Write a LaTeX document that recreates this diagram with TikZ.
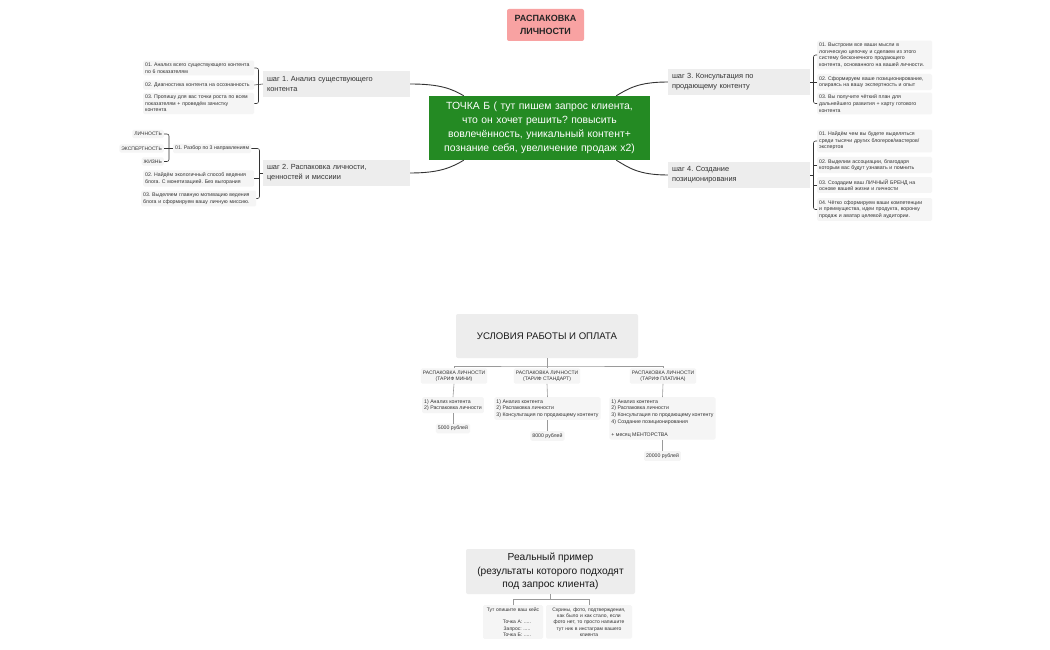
\documentclass[tikz,border=0pt]{standalone}
\usepackage{fontspec}
\setmainfont{Liberation Sans}
\usetikzlibrary{calc}
\definecolor{itemfill}{HTML}{F5F5F5}
\definecolor{stepfill}{HTML}{EDEDED}
\definecolor{greenbox}{HTML}{248A23}
\definecolor{pinkbox}{HTML}{F8A2A2}
\definecolor{linedark}{HTML}{333333}
\definecolor{linegray}{HTML}{9A9A9A}
\definecolor{txt}{HTML}{333333}
\newcommand{\myfs}[2]{\fontsize{#1}{#2}\selectfont}
\frenchspacing
\begin{document}
\frenchspacing
\begin{tikzpicture}[x=1pt,y=-1pt,
  item/.style={fill=itemfill, rounded corners=1.5pt, font=\myfs{5.2}{6.6}, align=left, inner xsep=2pt, inner ysep=2.3pt, text=txt},
  stepbox/.style={fill=stepfill, font=\myfs{7.4}{10}, align=left, inner xsep=4pt, minimum height=26pt, text=txt},
  bigbox/.style={fill=stepfill, rounded corners=2pt, align=center, text=black!90},
  br/.style={draw=linedark, line width=0.55pt, rounded corners=2pt},
  curve/.style={draw=linedark, line width=0.9pt},
  tl/.style={draw=linegray, line width=0.6pt},
  tnode/.style={fill=itemfill, rounded corners=1.5pt, font=\myfs{5.2}{6.6}, inner xsep=2pt, inner ysep=2.3pt, text=txt}
]
\useasboundingbox[fill=white] (0,0) rectangle (1050,650);

% title
\node[fill=pinkbox, rounded corners=2pt, minimum width=77pt, minimum height=32pt, align=center, font=\myfs{9}{12.5}\bfseries, text=black!85] (title) at (545.5,25) {РАСПАКОВКА\\ЛИЧНОСТИ};

% steps
\node[stepbox, text width=139pt] (s1) at (336.5,84) {шаг 1. Анализ существующего\\контента};
\node[stepbox, text width=139pt] (s2) at (336.5,173) {шаг 2. Распаковка личности,\\ценностей и миссиии};
\node[stepbox, text width=134pt] (s3) at (739,82) {шаг 3. Консультация по\\продающему контенту};
\node[stepbox, text width=134pt] (s4) at (739,175) {шаг 4. Создание\\позиционирования};

% center
\node[fill=greenbox, text=white, text width=213pt, inner xsep=4pt, minimum height=64pt, align=center, font=\myfs{10.4}{13.8}] (g) at (539.5,128) {ТОЧКА Б ( тут пишем запрос клиента,\\что он хочет решить? повысить\\вовлечённость, уникальный контент+\\познание себя, увеличение продаж x2)};

% curves
\draw[curve] (s1.east) .. controls +(30,0) and +(-12,-7) .. ($(g.north west)+(35,0)$);
\draw[curve] (s2.east) .. controls +(30,0) and +(-12,7) .. ($(g.south west)+(35,0)$);
\draw[curve] (s3.west) .. controls +(-30,0) and +(12,-7) .. ($(g.north east)+(-34,0)$);
\draw[curve] (s4.west) .. controls +(-30,0) and +(12,7) .. ($(g.south east)+(-34,0)$);

% step 1 items
\node[item, text width=107pt, anchor=west] (l1a) at (143,68) {01. Анализ всего существующего контента\\по 6 показателям};
\node[item, text width=107pt, anchor=west] (l1b) at (143,85) {02. Диагностика контента на осознанность};
\node[item, text width=107pt, anchor=west] (l1c) at (143,103.5) {03. Пропишу для вас точки роста по всем\\показателям + проведём зачистку\\контента};
\coordinate (j1) at (258.5,84);
\draw[br] (l1a.east) -| (j1) |- (l1c.east);
\draw[br] (l1b.east) -- (s1.west);

% step 2 items
\node[item, anchor=west] (l2a) at (173,148.5) {01. Разбор по 3 направлениям};
\node[item, text width=107pt, anchor=west] (l2b) at (143,178.5) {02. Найдём экологичный способ ведения\\блога. С монетизацией. Без выгорания};
\node[item, text width=111pt, anchor=west] (l2c) at (141,198.5) {03. Выделяем главную мотивацию ведения\\блога и сформируем вашу личную миссию.};
\coordinate (j2) at (259.5,173);
\draw[br] (l2a.east) -| (j2) |- (l2c.east);
\draw[br] (j2) -- (s2.west);
\draw[br] (l2b.east) -- (l2b.east -| j2);

% sub items
\node[tnode, anchor=east, font=\myfs{5}{6}] (sa) at (164,134) {ЛИЧНОСТЬ};
\node[tnode, anchor=east, font=\myfs{5}{6}] (sb) at (164,148.5) {ЭКСПЕРТНОСТЬ};
\node[tnode, anchor=east, font=\myfs{5}{6}] (sc) at (164,161.5) {ЖИЗНЬ};
\coordinate (j3) at (169,148.5);
\draw[br] (sa.east) -| (j3) |- (sc.east);
\draw[br] (sb.east) -- (l2a.west);

% step 3 items
\node[item, text width=111pt, anchor=west] (r3a) at (817,55) {01. Выстроим все ваши мысли в\\логическую цепочку и сделаем из этого\\систему бесконечного продающего\\контента, основанного на вашей личности.};
\node[item, text width=111pt, anchor=west] (r3b) at (817,82) {02. Сформируем ваше позиционирование,\\опираясь на вашу экспертность и опыт};
\node[item, text width=111pt, anchor=west] (r3c) at (817,103.5) {03. Вы получите чёткий план для\\дальнейшего развития + карту готового\\контента};
\coordinate (j4) at (813.5,82);
\draw[br] (r3a.west) -| (j4) |- (r3c.west);
\draw[br] (s3.east) -- (r3b.west);

% step 4 items
\node[item, text width=111pt, anchor=west] (r4a) at (817,141) {01. Найдём чем вы будете выделяться\\среди тысячи других блогеров/мастеров/\\экспертов};
\node[item, text width=111pt, anchor=west] (r4b) at (817,165) {02. Выделим ассоциации, благодаря\\которым вас будут узнавать и помнить};
\node[item, text width=111pt, anchor=west] (r4c) at (817,185) {03. Создадим ваш ЛИЧНЫЙ БРЕНД на\\основе вашей жизни и личности};
\node[item, text width=111pt, anchor=west] (r4d) at (817,209.5) {04. Чётко сформируем ваши компетенции\\и преимущества, идеи продукта, воронку\\продаж и аватар целевой аудитории.};
\coordinate (j5) at (813.5,175);
\draw[br] (r4a.west) -| (j5) |- (r4d.west);
\draw[br] (s4.east) -- (j5);
\draw[br] (r4b.west) -- (r4b.west -| j5);
\draw[br] (r4c.west) -- (r4c.west -| j5);

% conditions
\node[bigbox, minimum width=182pt, minimum height=44pt, font=\myfs{9.6}{12}] (cond) at (547,336) {УСЛОВИЯ РАБОТЫ И ОПЛАТА};
\node[tnode, align=center, font=\myfs{5}{6.2}] (t1) at (454,376) {РАСПАКОВКА ЛИЧНОСТИ\\(ТАРИФ МИНИ)};
\node[tnode, align=center, font=\myfs{5}{6.2}] (t2) at (547,376) {РАСПАКОВКА ЛИЧНОСТИ\\(ТАРИФ СТАНДАРТ)};
\node[tnode, align=center, font=\myfs{5}{6.2}] (t3) at (663,376) {РАСПАКОВКА ЛИЧНОСТИ\\(ТАРИФ ПЛАТИНА)};
\coordinate (cj) at (547,366);
\draw[tl] (cond.south) -- (cj);
\draw[tl] (t1.north) |- (cj) -| (t3.north);
\draw[tl] (cj) -- (t2.north);

\node[tnode, align=left, anchor=north] (c1) at (453,397) {1) Анализ контента\\2) Распаковка личности};
\node[tnode, align=left, anchor=north] (c2) at (547.5,397) {1) Анализ контента\\2) Распаковка личности\\3) Консультация по продающему контенту};
\node[tnode, align=left, anchor=north] (c3) at (662.5,397) {1) Анализ контента\\2) Распаковка личности\\3) Консультация по продающему контенту\\4) Создание позиционирования\\[6.6pt]+ месяц МЕНТОРСТВА};
\draw[tl] (t1.south) -- (c1.north);
\draw[tl] (t2.south) -- (c2.north);
\draw[tl] (t3.south) -- (c3.north);

\node[tnode] (p1) at (453,428.5) {5000 рублей};
\node[tnode] (p2) at (547.5,436) {8000 рублей};
\node[tnode] (p3) at (662.5,456) {20000 рублей};
\draw[tl] (c1.south) -- (p1.north);
\draw[tl] (c2.south) -- (p2.north);
\draw[tl] (c3.south) -- (p3.north);

% example
\node[bigbox, minimum width=169pt, minimum height=45pt, font=\myfs{10.2}{13.4}] (ex) at (550.5,571.5) {Реальный пример\\(результаты которого подходят\\под запрос клиента)};
\node[tnode, align=center, text width=56pt, anchor=north, font=\myfs{5}{6.3}] (e1) at (513,605) {Тут опишите ваш кейс\\[6.3pt]\hspace*{8pt}Точка А: .....\\\hspace*{8pt}Запрос: .....\\\hspace*{8pt}Точка Б: .....};
\node[tnode, align=center, text width=82pt, anchor=north, font=\myfs{5}{6.3}] (e2) at (589,605) {Скрины, фото, подтверждения,\\как было и как стало, если\\фото нет, то просто напишите\\тут ник в инстаграм вашего\\клиента};
\coordinate (ej) at (550.5,599.5);
\draw[tl] (ex.south) -- (ej);
\draw[tl] (e1.north) |- (ej) -| (e2.north);

\end{tikzpicture}
\end{document}
